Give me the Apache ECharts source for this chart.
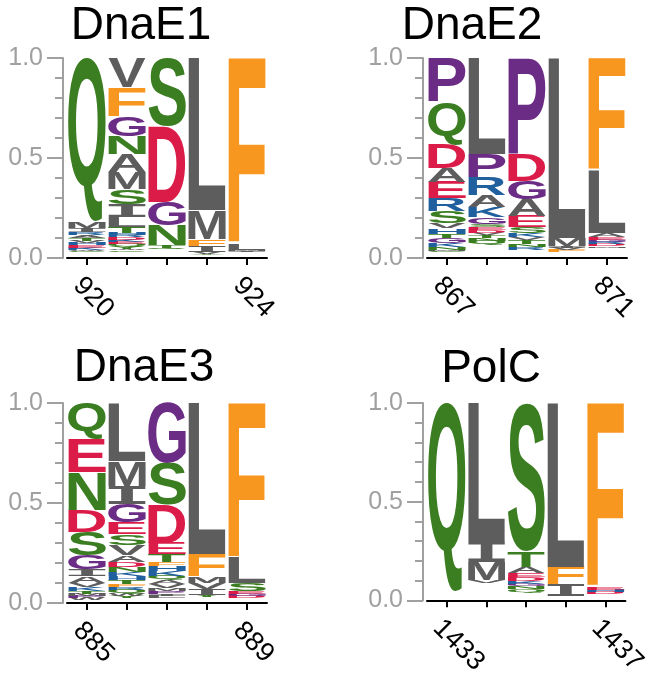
<!DOCTYPE html>
<html>
<head>
<meta charset="utf-8">
<script src="https://cdn.jsdelivr.net/npm/echarts@6.0.0/dist/echarts.min.js"></script>
<style>
  html, body { margin: 0; padding: 0; background: #fff; }
  #main { width: 650px; height: 678px; }
</style>
</head>
<body>
<div id="main"></div>
<script>
// panel titles and residue numbers
var panelTitles = ['DnaE1', 'DnaE2', 'DnaE3', 'PolC'];
var posDnaE1 = ['920', '921', '922', '923', '924'];
var posDnaE2 = ['867', '868', '869', '870', '871'];
var posDnaE3 = ['885', '886', '887', '888', '889'];
var posPolC = ['1433', '1434', '1435', '1436', '1437'];
var yTicks = [0, 0.5, 1.0];

// letter frequencies per column, bottom -> top ('-' = gaps, not drawn)
var stackDnaE1 = [
  [['-', .03], ['C', .005], ['W', .007], ['K', .01], ['E', .013], ['H', .01], ['V', .012], ['T', .015], ['A', .013], ['R', .015], ['I', .02], ['M', .035], ['Q', .815]],
  [['-', .03], ['C', .008], ['W', .008], ['Y', .01], ['Q', .012], ['E', .012], ['K', .01], ['D', .013], ['R', .01], ['H', .012], ['T', .03], ['L', .05], ['I', .065], ['S', .075], ['M', .085], ['A', .09], ['N', .09], ['G', .10], ['F', .145], ['V', .145]],
  [['-', .045], ['Q', .005], ['T', .015], ['N', .10], ['G', .115], ['D', .38], ['S', .34]],
  [['-', .015], ['Y', .005], ['V', .01], ['I', .03], ['F', .035], ['M', .145], ['L', .76]],
  [['-', .03], ['I', .005], ['M', .005], ['L', .03], ['F', .93]]
];
var stackDnaE2 = [
  [['-', .03], ['C', .005], ['M', .005], ['N', .015], ['K', .02], ['G', .025], ['T', .02], ['H', .028], ['V', .027], ['S', .06], ['R', .065], ['E', .08], ['A', .07], ['D', .12], ['Q', .21], ['P', .22]],
  [['-', .065], ['Q', .02], ['N', .015], ['T', .015], ['V', .01], ['D', .015], ['E', .015], ['S', .015], ['G', .035], ['K', .05], ['A', .06], ['R', .09], ['P', .115], ['L', .48]],
  [['-', .04], ['R', .015], ['N', .015], ['T', .02], ['V', .015], ['K', .02], ['S', .03], ['E', .055], ['A', .085], ['G', .09], ['D', .135], ['P', .48]],
  [['-', .03], ['F', .01], ['V', .01], ['I', .01], ['M', .04], ['L', .90]],
  [['-', .05], ['M', .008], ['D', .01], ['R', .01], ['G', .012], ['E', .015], ['A', .02], ['L', .315], ['F', .56]]
];
var stackDnaE3 = [
  [['-', .015], ['W', .01], ['P', .01], ['M', .01], ['T', .015], ['K', .02], ['V', .02], ['A', .035], ['I', .035], ['G', .07], ['S', .115], ['D', .11], ['N', .19], ['E', .165], ['Q', .18]],
  [['-', .025], ['Y', .01], ['W', .01], ['Q', .02], ['R', .015], ['F', .015], ['T', .02], ['H', .02], ['K', .02], ['N', .025], ['D', .025], ['A', .035], ['V', .05], ['S', .055], ['E', .06], ['G', .09], ['I', .09], ['M', .125], ['L', .29]],
  [['-', .025], ['L', .01], ['I', .01], ['P', .015], ['M', .015], ['V', .02], ['A', .02], ['Q', .02], ['K', .025], ['H', .025], ['F', .02], ['T', .04], ['E', .055], ['D', .19], ['S', .21], ['G', .30]],
  [['-', .03], ['Y', .01], ['I', .03], ['V', .03], ['M', .035], ['F', .11], ['L', .755]],
  [['-', .025], ['D', .01], ['G', .01], ['E', .015], ['S', .04], ['L', .125], ['F', .775]]
];
var stackPolC = [
  [['-', .04], ['Q', .96]],
  [['-', .09], ['V', .015], ['M', .09], ['I', .105], ['L', .70]],
  [['-', .04], ['Q', .015], ['N', .015], ['G', .015], ['K', .015], ['D', .02], ['E', .02], ['A', .03], ['T', .08], ['S', .75]],
  [['-', .02], ['I', .06], ['F', .09], ['L', .83]],
  [['-', .03], ['D', .01], ['H', .01], ['E', .015], ['F', .935]]
];

var panelPositions = [posDnaE1, posDnaE2, posDnaE3, posPolC];
var panelStacks = [stackDnaE1, stackDnaE2, stackDnaE3, stackPolC];

var letterColors = {
  Q: '#3b7e22', N: '#3b7e22', S: '#3b7e22', T: '#3b7e22', C: '#3b7e22', Y: '#3b7e22',
  G: '#6b2c85', P: '#6b2c85',
  D: '#dc1c48', E: '#dc1c48',
  K: '#20609e', R: '#20609e', H: '#20609e',
  F: '#f7971f',
  A: '#5e5d5e', V: '#5e5d5e', L: '#5e5d5e', I: '#5e5d5e', M: '#5e5d5e', W: '#5e5d5e'
};

var gridLeft = [67, 427];
var gridTop = [58, 403];
var titlePos = [[141, 26], [472, 26], [144, 368], [491, 369]];

// ink box of each glyph, so it can be stretched to fill its cell
var measureCtx = document.createElement('canvas').getContext('2d');
var glyphCache = {};
function glyphFont(ch) {
  return ch === 'I' ? 'bold 100px "Liberation Mono"' : 'bold 100px "Liberation Sans"';
}
function glyphBox(ch) {
  if (glyphCache[ch]) return glyphCache[ch];
  measureCtx.font = glyphFont(ch);
  measureCtx.textAlign = 'left';
  measureCtx.textBaseline = 'middle';
  var m = measureCtx.measureText(ch);
  var b = {
    l: m.actualBoundingBoxLeft, r: m.actualBoundingBoxRight,
    a: m.actualBoundingBoxAscent, d: m.actualBoundingBoxDescent
  };
  glyphCache[ch] = b;
  return b;
}

function buildItems(stacks) {
  var items = [];
  stacks.forEach(function (col, ci) {
    var base = 0;
    col.forEach(function (e) {
      if (e[0] !== '-') items.push({ value: [ci, base, base + e[1]], letter: e[0] });
      base += e[1];
    });
  });
  return items;
}

function makeRender(items) {
  return function (params, api) {
    var ch = items[params.dataIndex].letter;
    var lo = api.coord([api.value(0), api.value(1)]);
    var hi = api.coord([api.value(0), api.value(2)]);
    var w = api.size([1, 0])[0] * 0.94;
    var h = lo[1] - hi[1];
    if (h <= 0.05) return null;
    var b = glyphBox(ch);
    var sx = w / (b.l + b.r);
    var sy = h / (b.a + b.d);
    return {
      type: 'text',
      x: lo[0] - w / 2 + b.l * sx,
      y: hi[1] + b.a * sy,
      scaleX: sx,
      scaleY: sy,
      silent: true,
      style: {
        text: ch,
        font: glyphFont(ch),
        fill: letterColors[ch],
        align: 'left',
        verticalAlign: 'middle'
      }
    };
  };
}

var grids = [], xAxes = [], yAxes = [], series = [], titles = [];
for (var i = 0; i < 4; i++) {
  var col = i % 2, row = Math.floor(i / 2);
  grids.push({ left: gridLeft[col], top: gridTop[row], width: 200, height: 200 });
  xAxes.push({
    type: 'category',
    gridIndex: i,
    data: panelPositions[i],
    boundaryGap: true,
    axisLine: { lineStyle: { color: '#000', width: 2 } },
    axisTick: { show: true, interval: 0, alignWithLabel: true, length: 7, lineStyle: { color: '#000', width: 2 } },
    axisLabel: {
      interval: function (idx) { return idx === 0 || idx === 4; },
      rotate: -45,
      align: 'left',
      verticalAlign: 'top',
      margin: 14,
      color: '#000',
      fontSize: 27,
      fontFamily: 'Liberation Sans'
    },
    splitLine: { show: false }
  });
  yAxes.push({
    type: 'value',
    gridIndex: i,
    min: yTicks[0],
    max: yTicks[2],
    interval: yTicks[1],
    offset: 4,
    axisLine: { show: true, lineStyle: { color: '#a0a0a0', width: 2 } },
    axisTick: { show: true, length: 16, lineStyle: { color: '#a0a0a0', width: 2 } },
    minorTick: { show: true, splitNumber: 5, length: 8, lineStyle: { color: '#a0a0a0', width: 2 } },
    axisLabel: {
      margin: 20,
      color: '#a0a0a0',
      fontSize: 25,
      fontFamily: 'Liberation Sans',
      formatter: function (v) { return v.toFixed(1); }
    },
    splitLine: { show: false },
    minorSplitLine: { show: false }
  });
  var items = buildItems(panelStacks[i]);
  series.push({
    type: 'custom',
    xAxisIndex: i,
    yAxisIndex: i,
    renderItem: makeRender(items),
    encode: { x: 0, y: [1, 2] },
    data: items.map(function (it) { return it.value; })
  });
  titles.push({
    type: 'text',
    x: titlePos[i][0],
    y: titlePos[i][1],
    style: {
      text: panelTitles[i],
      font: '46px "Liberation Sans"',
      fill: '#000',
      align: 'center',
      verticalAlign: 'middle'
    }
  });
}

var myChart = echarts.init(document.getElementById('main'));
myChart.setOption({
  animation: false,
  backgroundColor: '#fff',
  grid: grids,
  xAxis: xAxes,
  yAxis: yAxes,
  graphic: titles,
  series: series
});
</script>
</body>
</html>
